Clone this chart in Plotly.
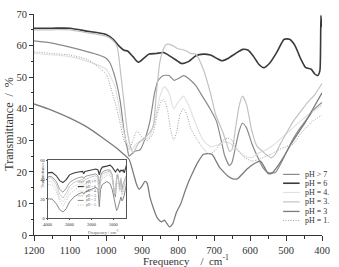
import plotly.graph_objects as go

# ---------------- main spectrum data ----------------
x_ph7 = [1200, 1150, 1100, 1050, 1020, 1000, 990, 975, 960, 950, 940, 936, 920, 905, 890, 878, 865, 855, 841, 825, 811, 800, 784, 770, 751, 730, 711, 693, 680, 670, 657, 650, 640, 630, 621, 610, 595, 580, 565, 550, 530, 515, 500, 480, 460, 440, 420, 400]
v_ph7 = [61.5, 60.8, 59.5, 58, 57, 56, 54.7, 50, 42, 33, 27, 25, 26.5, 27, 31, 36, 45, 49, 50.5, 50.5, 49, 49.5, 50.5, 49.5, 47.4, 43.5, 40, 36, 30, 25, 22, 23, 28, 33, 35.4, 34, 29, 25, 21.5, 19.8, 19.8, 22.5, 26, 30.5, 34, 37, 40, 42]

x_ph6 = [1200, 1150, 1100, 1050, 1020, 1000, 980, 965, 950, 940, 925, 910, 895, 880, 860, 840, 820, 800, 790, 770, 750, 730, 710, 690, 678, 660, 640, 620, 605, 590, 575, 562, 545, 525, 505, 490, 475, 460, 445, 430, 420, 412, 406, 404, 403, 401, 400]
v_ph6 = [65.5, 65.5, 65.5, 64.5, 64, 63.5, 62, 60, 58.5, 58.3, 56.5, 54.7, 56, 57.3, 57.5, 57.8, 56.5, 55, 54.3, 55, 56.8, 57.3, 57, 55.8, 55.2, 56, 57.5, 58.8, 58.5, 56.5, 54, 53, 54.5, 58, 62, 62, 60, 56, 53, 52.5, 51, 50.5, 52, 60, 69.5, 66, 68]

x_ph4 = [1200, 1100, 1050, 1000, 975, 960, 945, 930, 915, 900, 880, 865, 850, 838, 825, 812, 800, 785, 770, 750, 730, 710, 690, 670, 655, 635, 615, 595, 575, 555, 535, 510, 480, 450, 420, 400]
v_ph4 = [57.5, 56.5, 55, 52.5, 47, 38, 30, 27, 29, 30, 31, 36, 44, 47, 45, 40, 42, 44, 41, 35, 30, 28, 28.5, 29.5, 29, 27, 25, 24.5, 26, 27, 28.5, 31, 34, 37, 39.5, 41]

x_ph3a = [1200, 1150, 1100, 1050, 1020, 1000, 985, 970, 960, 950, 941, 932, 925, 910, 890, 875, 868, 860, 850, 840, 832, 815, 800, 780, 765, 751, 730, 710, 695, 676, 665, 657, 650, 640, 630, 621, 610, 595, 580, 570, 555, 540, 530, 515, 500, 480, 460, 440, 420, 400]
v_ph3a = [65, 65, 65, 64, 63.5, 63, 62, 60, 52, 42, 33, 28, 26, 29, 31, 33, 35, 45, 55, 59, 60.4, 60, 59, 58.5, 57.5, 57.3, 52.6, 45, 38, 32.8, 29, 26.5, 27, 34, 41, 44, 41.5, 33, 28, 27, 25.5, 24.5, 25.5, 29, 32, 36, 39, 42, 44.5, 48]

x_ph3 = [1200, 1150, 1100, 1050, 1000, 970, 950, 936, 925, 915, 908, 900, 892, 886, 878, 868, 858, 846, 838, 830, 824, 815, 805, 792, 780, 770, 757, 745, 730, 716, 705, 697, 685, 676, 660, 648, 635, 620, 608, 590, 571, 560, 550, 540, 525, 505, 485, 465, 445, 425, 400]
v_ph3 = [41.5, 39.5, 37, 34, 30, 27.5, 25.5, 24, 20, 16, 14.5, 15.5, 17, 16.5, 12, 8.4, 5.5, 4.2, 4.7, 3.5, 2.6, 3.5, 7, 10, 14, 17, 20.3, 23, 25.5, 25.8, 25.5, 24, 21.5, 20.3, 18.5, 17.8, 17.8, 19.5, 20.9, 22.5, 23.4, 21.5, 19.5, 19.5, 21.5, 25, 29, 32.5, 36, 40, 45]

x_ph1 = [1200, 1150, 1100, 1050, 1000, 985, 970, 960, 950, 936, 925, 914, 900, 885, 870, 858, 848, 840, 830, 820, 812, 803, 795, 785, 775, 765, 740, 724, 711, 695, 675, 662, 650, 635, 620, 595, 575, 555, 541, 520, 500, 481, 460, 440, 427, 400]
v_ph1 = [58, 57.5, 57, 55.5, 51, 46, 40, 35, 30, 27, 30, 33, 31, 30, 32, 38, 42, 43, 40, 33, 30, 33, 38, 40, 38, 33.8, 29, 26.6, 25.6, 27, 30, 30.7, 30, 27, 25, 23.4, 24, 25, 25.6, 27, 28, 28.7, 32, 34.5, 36, 38]

names = ["pH > 7", "pH = 6", "pH = 4.", "pH = 3.", "pH = 3", "pH = 1."]
colors = ["#8a8a8a", "#3a3a3a", "#e0e0e0", "#c2c2c2", "#7c7c7c", "#a0a0a0"]
widths = [1.2, 1.6, 1.1, 1.2, 1.3, 1.0]
dashes = ["solid", "solid", "solid", "solid", "solid", "1px,1.5px"]
xs = [x_ph7, x_ph6, x_ph4, x_ph3a, x_ph3, x_ph1]
vs = [v_ph7, v_ph6, v_ph4, v_ph3a, v_ph3, v_ph1]

# ---------------- inset (full range spectrum) ----------------
inset_x = [4000, 3800, 3600, 3450, 3300, 3150, 3000, 2800, 2600, 2400, 2350, 2300, 2200, 2000, 1800, 1700, 1640, 1580, 1500, 1300, 1150, 1050, 950, 900, 850, 800, 700, 650, 600, 550, 500, 450, 400]
inset_ph7 = [43.5, 43, 38, 30, 27, 31, 37, 40, 42, 43, 41, 43, 44, 45, 46, 44, 35, 44, 48, 50, 50, 45, 25, 22, 40, 45, 33, 40, 30, 36, 38, 42, 44]
inset_ph6 = [47, 47.5, 44, 39, 37, 40, 45, 47, 48, 48.5, 46, 48.5, 49, 50, 51, 50, 45, 50, 53, 54, 55, 53, 50, 48, 50, 51, 48, 50, 49, 50, 47, 52, 55]
inset_ph4 = [38.5, 38, 31, 21, 17, 22, 29, 33, 35, 36, 34, 36, 37, 39, 41, 39, 26, 39, 43, 46, 47, 42, 26, 28, 40, 41, 29, 35, 26, 30, 32, 37, 40]
inset_ph3a = [42, 41.5, 35, 25, 21, 26, 33, 37, 39, 40, 38, 40, 41, 43, 44, 42, 30, 42, 46, 48, 49, 45, 25, 27, 45, 46, 30, 42, 28, 32, 34, 40, 45]
inset_ph3 = [20, 20, 15, 9, 6.5, 10, 17, 22, 25, 27, 25, 27, 28, 30, 32, 30, 12, 30, 35, 38, 36, 30, 18, 15, 8, 10, 18, 22, 18, 20, 24, 30, 35]
inset_ph1 = [35, 34.5, 28, 18, 13, 18, 25, 29, 32, 34, 32, 34, 35, 37, 39, 37, 22, 37, 41, 44, 45, 40, 28, 30, 38, 36, 28, 30, 24, 27, 30, 34, 37]
inset_vs = [inset_ph7, inset_ph6, inset_ph4, inset_ph3a, inset_ph3, inset_ph1]

x_ticks = [1200, 1100, 1000, 900, 800, 700, 600, 500, 400]
y_ticks = [0, 10, 20, 30, 40, 50, 60, 70]
inset_xticks = [4000, 3000, 2000, 1000]
inset_yticks = [0, 20, 40, 60]

FONT = "Liberation Serif"
AX = "#333333"
TINY = 4.5
TINY_LEG = 3.5

fig = go.Figure()
for x, v, n, c, w, d in zip(xs, vs, names, colors, widths, dashes):
    fig.add_trace(go.Scatter(x=x, y=v, name=n, mode="lines",
                             line=dict(color=c, width=w, dash=d, shape="spline", smoothing=0.6),
                             showlegend=False, hoverinfo="skip"))
for v, n, c, w, d in zip(inset_vs, names, colors, widths, dashes):
    fig.add_trace(go.Scatter(x=inset_x, y=v, name=n, mode="lines", xaxis="x2", yaxis="y2",
                             line=dict(color=c, width=w * 0.7, dash=d, shape="linear"),
                             showlegend=False, hoverinfo="skip"))

W, H = 339, 267
L, R, T, B = 34, 9, 10, 32
pw, ph = W - L - R, H - T - B


def px2paper(px, py):
    return (px - L) / pw, (H - B - py) / ph


# inset placement (pixel box)
ix0, ix1, iy0, iy1 = 48, 129, 159, 218
ax0, ay1 = px2paper(ix0, iy0)
ax1, ay0 = px2paper(ix1, iy1)

fig.update_layout(
    width=W, height=H,
    margin=dict(l=L, r=R, t=T, b=B),
    paper_bgcolor="white", plot_bgcolor="white",
    font=dict(family=FONT, color=AX, size=10.5),
    xaxis=dict(range=[1200, 400], tickvals=x_ticks, ticks="outside", ticklen=5, tickwidth=1,
               tickcolor=AX, showline=True, linecolor=AX, linewidth=1, showgrid=False,
               zeroline=False, tickfont=dict(size=10.5, family=FONT),
               minor=dict(dtick=50, ticks="outside", ticklen=3, tickcolor=AX, showgrid=False)),
    yaxis=dict(range=[0, 70], tickvals=y_ticks, ticks="outside", ticklen=4, tickwidth=1,
               tickcolor=AX, showline=True, linecolor=AX, linewidth=1, showgrid=False,
               zeroline=False, tickfont=dict(size=10.5, family=FONT),
               minor=dict(dtick=5, ticks="outside", ticklen=2.5, tickcolor=AX, showgrid=False)),
    xaxis2=dict(domain=[ax0, ax1], anchor="y2", range=[4000, 400], tickvals=inset_xticks,
                ticks="outside", ticklen=1, tickwidth=0.5, tickcolor="#555",
                showline=True, mirror=True, linecolor="#555", linewidth=0.7, showgrid=False,
                zeroline=False, tickfont=dict(size=TINY, family=FONT)),
    yaxis2=dict(domain=[ay0, ay1], anchor="x2", range=[0, 60], tickvals=inset_yticks,
                ticks="outside", ticklen=1, tickwidth=0.5, tickcolor="#555",
                showline=True, mirror=True, linecolor="#555", linewidth=0.7, showgrid=False,
                zeroline=False, tickfont=dict(size=TINY, family=FONT)),
)

annotations = []
shapes = []
# axis titles
tx, ty = px2paper(8, 122)
annotations.append(dict(text="Transmittance  /  %", x=tx, y=ty, xref="paper", yref="paper",
                        textangle=-90, showarrow=False, xanchor="center", yanchor="middle",
                        font=dict(size=12, family=FONT, color=AX)))
tx, ty = px2paper(190, 260)
annotations.append(dict(text="Frequency\u00a0\u00a0\u00a0\u00a0/\u00a0\u00a0cm<sup>-1</sup>", x=tx, y=ty,
                        xref="paper", yref="paper", showarrow=False, xanchor="center",
                        yanchor="middle", font=dict(size=11, family=FONT, color=AX)))
# inset titles
tx, ty = px2paper(88, 227.5)
annotations.append(dict(text="Frequency / cm<sup>-1</sup>", x=tx, y=ty, xref="paper", yref="paper",
                        showarrow=False, yanchor="top", borderpad=0,
                        font=dict(size=TINY, family=FONT, color="#555")))
tx, ty = px2paper(39, 188)
annotations.append(dict(text="Transmittance", x=tx, y=ty, xref="paper", yref="paper",
                        textangle=-90, showarrow=False, borderpad=0,
                        font=dict(size=TINY, family=FONT, color="#555")))

# main legend (drawn manually to match compact spacing)
leg_rows = [173.3, 182.3, 191.7, 201.3, 211, 220.3]
for n, c, w, d, py in zip(names, colors, widths, dashes, leg_rows):
    xa, ya = px2paper(290, py)
    xb, _ = px2paper(307, py)
    shapes.append(dict(type="line", xref="paper", yref="paper", x0=xa, x1=xb, y0=ya, y1=ya,
                       line=dict(color=c, width=w, dash=d)))
    xt, _ = px2paper(310, py)
    annotations.append(dict(text=n, x=xt, y=ya, xref="paper", yref="paper", showarrow=False,
                            xanchor="left", yanchor="middle",
                            font=dict(size=8, family=FONT, color=AX)))

# inset legend
inset_rows = [181, 185.7, 190.4, 195.1, 199.8, 204.5]
for n, c, w, d, py in zip(names, colors, widths, dashes, inset_rows):
    xa, ya = px2paper(79, py)
    xb, _ = px2paper(85, py)
    shapes.append(dict(type="line", xref="paper", yref="paper", x0=xa, x1=xb, y0=ya, y1=ya,
                       line=dict(color=c, width=w * 0.7, dash=d)))
    xt, _ = px2paper(86, py)
    annotations.append(dict(text=n, x=xt, y=ya, xref="paper", yref="paper", showarrow=False,
                            xanchor="left", yanchor="middle", borderpad=0,
                            font=dict(size=TINY_LEG, family=FONT, color="#555")))

fig.update_layout(annotations=annotations, shapes=shapes)
fig.write_html("out.html")
